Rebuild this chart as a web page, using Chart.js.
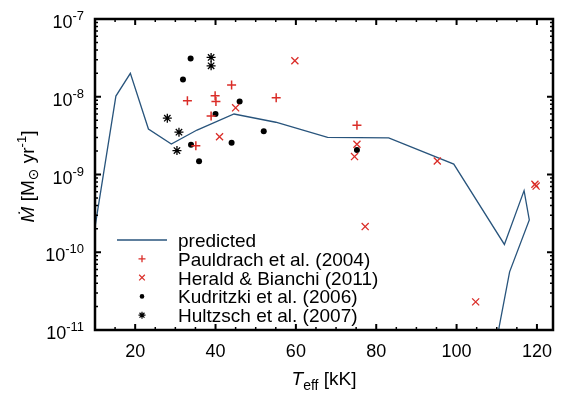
<!DOCTYPE html>
<html>
<head>
<meta charset="utf-8">
<script src="https://cdn.jsdelivr.net/npm/chart.js@4.4.0/dist/chart.umd.min.js"></script>
<style>
html, body { margin: 0; padding: 0; background: #fff; }
#wrap { width: 570px; height: 397px; }
</style>
</head>
<body>
<div id="wrap"><canvas id="chjs_chart0" width="570" height="397"></canvas></div>
<script>
// predicted curve (Teff in kK, Mdot in Msun/yr)
const pred_teff = [10, 15.2, 18.8, 23.3, 29, 35.4, 44.6, 55, 67.9, 83.1, 99.3, 111.9, 116.8, 118.1, 113.2, 110.6, 110.2];
const pred_mdot = [2.1e-10, 1.02e-8, 2.0e-8, 3.85e-9, 2.46e-9, 3.73e-9, 6.0e-9, 4.7e-9, 3.0e-9, 2.95e-9, 1.36e-9, 1.26e-10, 6.2e-10, 2.6e-10, 5.6e-11, 1.1e-11, 8e-12];

// Pauldrach et al. (2004)
const paul_teff = [33, 39.9, 40.1, 44, 38.9, 35.1, 55.1, 75.2];
const paul_mdot = [8.9e-9, 1.03e-8, 8.7e-9, 1.42e-8, 5.65e-9, 2.35e-9, 9.7e-9, 4.3e-9];

// Herald & Bianchi (2011)
const hera_teff = [45, 41, 59.75, 75.2, 74.6, 95.2, 119.5, 119.8, 77.25, 104.75];
const hera_mdot = [7.2e-9, 3.06e-9, 2.9e-8, 2.45e-9, 1.7e-9, 1.49e-9, 7.5e-10, 7.1e-10, 2.14e-10, 2.3e-11];

// Kudritzki et al. (2006)
const kudr_teff = [33.8, 31.9, 46, 40, 52, 33.9, 44, 35.9, 75.2];
const kudr_mdot = [3.1e-8, 1.67e-8, 8.7e-9, 6.0e-9, 3.6e-9, 2.42e-9, 2.56e-9, 1.48e-9, 2.07e-9];

// Hultzsch et al. (2007)
const hult_teff = [38.9, 38.9, 28, 30.9, 30.4];
const hult_mdot = [3.2e-8, 2.5e-8, 5.3e-9, 3.5e-9, 2.03e-9];

// axes
const x_min = 10, x_max = 124;
const x_ticks = [20, 40, 60, 80, 100, 120];
const y_exps = [-11, -10, -9, -8, -7];
const legend_labels = ["predicted", "Pauldrach et al. (2004)", "Herald & Bianchi (2011)", "Kudritzki et al. (2006)", "Hultzsch et al. (2007)"];

const red = "rgb(218, 45, 40)";
const blue = "rgb(40, 84, 124)";
const font_name = "'Liberation Sans', Arial, 'DejaVu Sans', sans-serif";

function to_points(xs, ys){
    var pts = [];
    for (let i=0; i<xs.length; i++){
        pts.push({x: xs[i], y: ys[i]});
    }
    return pts;
}

// draws text made of pieces with different fonts / vertical offsets
function draw_rich(ctx, segs, x, y, align){
    var total = 0;
    segs.forEach(function(s){
        ctx.font = s.font;
        s.w = ctx.measureText(s.text).width;
        total += s.w;
    });
    var cx = x;
    if (align == "right") cx = x - total;
    if (align == "center") cx = x - total / 2;
    ctx.textAlign = "left";
    ctx.textBaseline = "alphabetic";
    segs.forEach(function(s){
        ctx.font = s.font;
        ctx.fillText(s.text, cx, y + (s.dy || 0));
        cx += s.w;
    });
}

function draw_symbol(ctx, style, x, y, r, color, lw){
    ctx.save();
    ctx.strokeStyle = color;
    ctx.fillStyle = color;
    ctx.lineWidth = lw;
    ctx.beginPath();
    if (style == "cross"){
        ctx.moveTo(x - r, y); ctx.lineTo(x + r, y);
        ctx.moveTo(x, y - r); ctx.lineTo(x, y + r);
        ctx.stroke();
    } else if (style == "crossRot"){
        var d = r * Math.SQRT1_2;
        ctx.moveTo(x - d, y - d); ctx.lineTo(x + d, y + d);
        ctx.moveTo(x - d, y + d); ctx.lineTo(x + d, y - d);
        ctx.stroke();
    } else if (style == "circle"){
        ctx.arc(x, y, r, 0, Math.PI * 2);
        ctx.fill();
    } else if (style == "star"){
        for (let k=0; k<4; k++){
            var a = k * Math.PI / 4;
            ctx.moveTo(x - r * Math.cos(a), y - r * Math.sin(a));
            ctx.lineTo(x + r * Math.cos(a), y + r * Math.sin(a));
        }
        ctx.stroke();
    }
    ctx.restore();
}

// frame, inward ticks, tick labels, axis titles and legend
const frame_plugin = {
    id: "frame_plugin",
    afterDraw(chart){
        const ctx = chart.ctx;
        const area = chart.chartArea;
        const xs = chart.scales.x;
        const ys = chart.scales.y;
        ctx.save();
        ctx.strokeStyle = "#000";
        ctx.fillStyle = "#000";

        // x ticks (minor every 5, major every 20)
        for (let v=x_min; v<=x_max; v+=5){
            var px = xs.getPixelForValue(v);
            var major = (v % 20 == 0);
            var tl = major ? 6 : 3;
            ctx.lineWidth = major ? 2 : 1.5;
            ctx.beginPath();
            ctx.moveTo(px, area.bottom); ctx.lineTo(px, area.bottom - tl);
            ctx.moveTo(px, area.top); ctx.lineTo(px, area.top + tl);
            ctx.stroke();
        }
        // y ticks (log minor)
        for (let e=-11; e<-7; e++){
            for (let m=1; m<10; m++){
                var py = ys.getPixelForValue(m * Math.pow(10, e));
                var major = (m == 1);
                var tl = major ? 6 : 3;
                ctx.lineWidth = major ? 2 : 1.5;
                ctx.beginPath();
                ctx.moveTo(area.left, py); ctx.lineTo(area.left + tl, py);
                ctx.moveTo(area.right, py); ctx.lineTo(area.right - tl, py);
                ctx.stroke();
            }
        }

        // frame
        ctx.lineWidth = 2.5;
        ctx.strokeRect(area.left, area.top, area.right - area.left, area.bottom - area.top);

        // x tick labels
        ctx.font = "18px " + font_name;
        ctx.textAlign = "center";
        ctx.textBaseline = "alphabetic";
        x_ticks.forEach(function(v){
            ctx.fillText(String(v), xs.getPixelForValue(v), area.bottom + 27);
        });

        // y tick labels 10^n
        y_exps.forEach(function(e){
            var py = ys.getPixelForValue(Math.pow(10, e));
            draw_rich(ctx, [
                {text: "10", font: "18px " + font_name},
                {text: "-" + String(-e), font: "13px " + font_name, dy: -8}
            ], area.left - 11, py + 9, "right");
        });

        // x title
        draw_rich(ctx, [
            {text: "T", font: "italic 19px " + font_name},
            {text: "eff", font: "14px " + font_name, dy: 5},
            {text: " [kK]", font: "19px " + font_name}
        ], (area.left + area.right) / 2, area.bottom + 55, "center");

        // y title
        ctx.save();
        ctx.translate(34, (area.top + area.bottom) / 2 + 2);
        ctx.rotate(-Math.PI / 2);
        draw_rich(ctx, [
            {text: "\u1E40", font: "italic 19px " + font_name},
            {text: " [M", font: "19px " + font_name},
            {text: "\u2299", font: "14px " + font_name, dy: 4},
            {text: " yr", font: "19px " + font_name},
            {text: "-1", font: "13px " + font_name, dy: -8},
            {text: "]", font: "19px " + font_name}
        ], 0, 0, "center");
        ctx.restore();

        // legend
        var row0 = 240, row_h = 18.8, sym_x = 142, txt_x = 178;
        ctx.strokeStyle = blue;
        ctx.lineWidth = 1.5;
        ctx.beginPath();
        ctx.moveTo(117, row0); ctx.lineTo(167, row0);
        ctx.stroke();
        draw_symbol(ctx, "cross", sym_x, row0 + row_h, 3.5, red, 1.3);
        draw_symbol(ctx, "crossRot", sym_x, row0 + 2 * row_h, 4, red, 1.2);
        draw_symbol(ctx, "circle", sym_x, row0 + 3 * row_h, 2.3, "#000", 1);
        draw_symbol(ctx, "star", sym_x, row0 + 4 * row_h, 3.5, "#000", 1.2);
        ctx.fillStyle = "#000";
        ctx.font = "19px " + font_name;
        ctx.textAlign = "left";
        ctx.textBaseline = "alphabetic";
        legend_labels.forEach(function(lab, i){
            ctx.fillText(lab, txt_x, row0 + i * row_h + 7);
        });
        ctx.restore();
    }
};

new Chart(document.getElementById("chjs_chart0"), {
    type: "scatter",
    data: {
        datasets: [{
            label: legend_labels[1],
            data: to_points(paul_teff, paul_mdot),
            pointStyle: "cross",
            pointRadius: 4.5,
            pointBorderWidth: 1.5,
            borderColor: red,
            backgroundColor: red
        },
        {
            label: legend_labels[2],
            data: to_points(hera_teff, hera_mdot),
            pointStyle: "crossRot",
            pointRadius: 5,
            pointBorderWidth: 1.3,
            borderColor: red,
            backgroundColor: red
        },
        {
            label: legend_labels[3],
            data: to_points(kudr_teff, kudr_mdot),
            pointStyle: "circle",
            pointRadius: 3,
            pointBorderWidth: 0,
            borderColor: "#000",
            backgroundColor: "#000"
        },
        {
            label: legend_labels[4],
            data: to_points(hult_teff, hult_mdot),
            pointStyle: "star",
            pointRadius: 4.5,
            pointBorderWidth: 1.3,
            borderColor: "#000",
            backgroundColor: "#000"
        },
        {
            label: legend_labels[0],
            data: to_points(pred_teff, pred_mdot),
            showLine: true,
            pointRadius: 0,
            borderColor: blue,
            borderWidth: 1.3,
            tension: 0,
            fill: false
        }]
    },
    options: {
        responsive: false,
        animation: false,
        devicePixelRatio: 1,
        layout: { padding: { left: 95, right: 17, top: 19, bottom: 67 } },
        scales: {
            x: { type: "linear", display: false, min: x_min, max: x_max },
            y: { type: "logarithmic", display: false, min: 1e-11, max: 1e-7 }
        },
        plugins: {
            legend: { display: false },
            tooltip: { enabled: false }
        }
    },
    plugins: [frame_plugin]
});
</script>
</body>
</html>
